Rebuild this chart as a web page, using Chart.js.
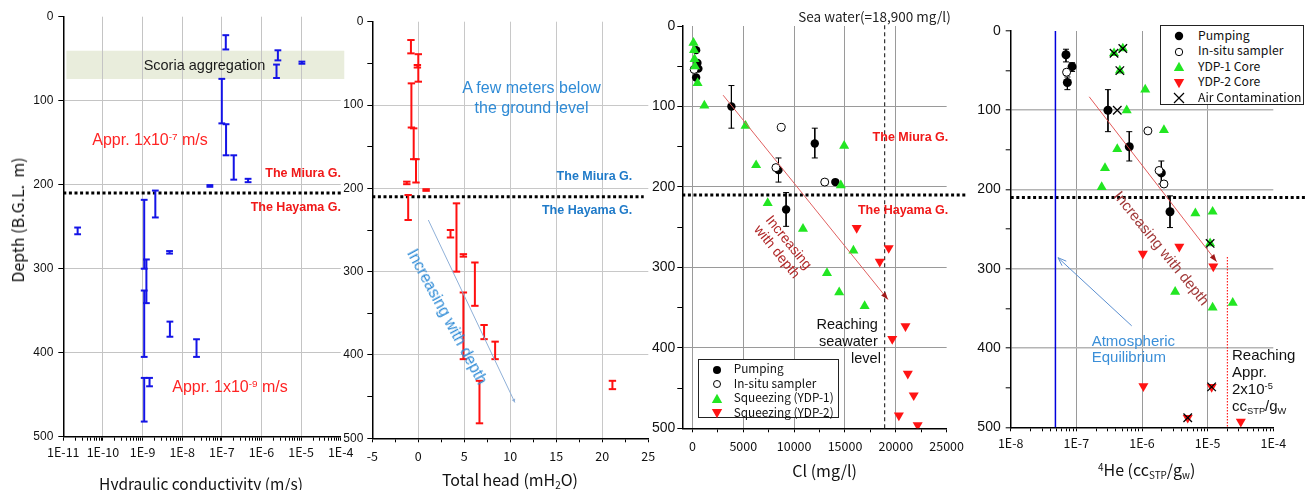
<!DOCTYPE html>
<html><head><meta charset="utf-8">
<script src="https://cdn.jsdelivr.net/npm/chart.js@4.4.1/dist/chart.umd.min.js"></script>
<style>
html,body{margin:0;padding:0;background:#fff;}
#wrap{position:relative;width:1307px;height:490px;overflow:hidden;background:#fff;font-family:'Liberation Sans',Arial,sans-serif;}
canvas{position:absolute;top:0;}
.t{position:absolute;white-space:nowrap;line-height:1;}
.c{transform:translate(-50%,-50%);}
.r{transform:translateY(-50%);}
.jp{font-family:'Noto Sans CJK JP','Liberation Sans',sans-serif;}
sup,sub{font-size:0.62em;line-height:0;}
sup{vertical-align:0.55em;}
sub{vertical-align:-0.3em;}
.b{font-weight:bold;}
.leg{position:absolute;background:#fff;border:1px solid #222;box-sizing:border-box;}
.leg .row{position:absolute;left:0;white-space:nowrap;line-height:1;transform:translateY(-50%);}
.leg svg{position:absolute;top:-6px;}
</style></head>
<body><div id="wrap">
<canvas id="c1"></canvas><canvas id="c2"></canvas><canvas id="c3"></canvas><canvas id="c4"></canvas>

<!-- Panel 1 texts -->
<div class="t c" style="left:204.5px;top:65px;font-size:14.5px;color:#1a1a1a;">Scoria aggregation</div>
<div class="t c" style="left:150px;top:140px;font-size:16px;color:#ff2424;">Appr. 1x10<sup>-7</sup> m/s</div>
<div class="t c" style="left:230px;top:387px;font-size:16px;color:#ff2424;">Appr. 1x10<sup>-9</sup> m/s</div>
<div class="t r b" style="right:966px;top:173.3px;font-size:12.5px;color:#f01818;">The Miura G.</div>
<div class="t r b" style="right:966px;top:207.3px;font-size:12.5px;color:#f01818;">The Hayama G.</div>
<div class="t c jp" style="left:17px;top:220px;font-size:16px;color:#111;transform:translate(-50%,-50%) rotate(-90deg);">Depth (B.G.L.&nbsp; m)</div>
<div class="t c jp" style="left:201px;top:484px;font-size:15.5px;color:#111;">Hydraulic conductivity (m/s)</div>

<!-- Panel 2 texts -->
<div class="t c" style="left:531.5px;top:98.3px;font-size:16px;line-height:20px;color:#2f8bd6;text-align:center;">A few meters below<br>the ground level</div>
<div class="t r b" style="right:674.7px;top:175.7px;font-size:12.5px;color:#1f7ac8;">The Miura G.</div>
<div class="t r b" style="right:674.7px;top:210px;font-size:12.5px;color:#1f7ac8;">The Hayama G.</div>
<div class="t" style="left:447px;top:317px;font-size:16px;color:#2f8bd6;transform:translate(-50%,-50%) rotate(61.6deg);">Increasing with depth</div>
<div class="t c jp" style="left:510px;top:479px;font-size:16px;color:#111;">Total head (mH<sub>2</sub>O)</div>

<!-- Panel 3 texts -->
<div class="t c jp" style="left:874.5px;top:16.7px;font-size:13.5px;color:#222;">Sea water(=18,900 mg/l)</div>
<div class="t r b" style="right:358.7px;top:136.7px;font-size:12.5px;color:#f01818;">The Miura G.</div>
<div class="t r b" style="right:358.7px;top:210px;font-size:12.5px;color:#f01818;">The Hayama G.</div>
<div class="t" style="left:783px;top:247px;font-size:14px;line-height:15px;color:#b02828;text-align:center;transform:translate(-50%,-50%) rotate(51deg);">Increasing<br>with depth</div>
<div class="t c" style="left:847.2px;top:324.3px;font-size:14.5px;color:#111;">Reaching</div>
<div class="t c" style="left:848.3px;top:341px;font-size:14.5px;color:#111;">seawater</div>
<div class="t c" style="left:866px;top:358.3px;font-size:14.5px;color:#111;">level</div>
<div class="t c jp" style="left:824.7px;top:470px;font-size:16px;color:#111;">Cl (mg/l)</div>

<!-- Panel 4 texts -->
<div class="t" style="left:1161.7px;top:248.3px;font-size:15px;color:#a23a3a;transform:translate(-50%,-50%) rotate(51deg);">Increasing with depth</div>
<div class="t" style="left:1091.7px;top:333px;font-size:15px;line-height:16.3px;color:#3b8fd8;">Atmospheric<br>Equilibrium</div>
<div class="t" style="left:1232px;top:346px;font-size:15px;line-height:17px;color:#111;">Reaching<br>Appr.<br>2x10<sup>-5</sup><br>cc<sub>STP</sub>/g<sub>W</sub></div>
<div class="t c jp" style="left:1146.7px;top:469.3px;font-size:16px;color:#111;"><sup>4</sup>He (cc<sub>STP</sub>/g<sub>w</sub>)</div>

<!-- Legend panel 3 -->
<div class="leg jp" style="left:697.7px;top:359px;width:141.3px;height:59px;font-size:11.8px;color:#111;">
  <div class="row" style="top:9.5px;"><svg width="12" height="12" style="left:12px"><circle cx="6" cy="6" r="4" fill="#000"/></svg><span style="position:absolute;left:35px;top:-7.5px;">Pumping</span></div>
  <div class="row" style="top:24px;"><svg width="12" height="12" style="left:12px"><circle cx="6" cy="6" r="3.5" fill="#fff" stroke="#000" stroke-width="1"/></svg><span style="position:absolute;left:35px;top:-7.5px;">In-situ sampler</span></div>
  <div class="row" style="top:38.5px;"><svg width="12" height="12" style="left:12px"><polygon points="6,0.8 11.2,10 0.8,10" fill="#22e622"/></svg><span style="position:absolute;left:35px;top:-7.5px;">Squeezing (YDP-1)</span></div>
  <div class="row" style="top:53px;"><svg width="12" height="12" style="left:12px"><polygon points="0.8,2 11.2,2 6,11.2" fill="#ff1414"/></svg><span style="position:absolute;left:35px;top:-7.5px;">Squeezing (YDP-2)</span></div>
</div>

<!-- Legend panel 4 -->
<div class="leg jp" style="left:1160px;top:25px;width:144px;height:79.5px;font-size:12.2px;color:#111;">
  <div class="row" style="top:10px;"><svg width="12" height="12" style="left:12px"><circle cx="6" cy="6" r="4.2" fill="#000"/></svg><span style="position:absolute;left:37px;top:-7.5px;">Pumping</span></div>
  <div class="row" style="top:25.6px;"><svg width="12" height="12" style="left:12px"><circle cx="6" cy="6" r="3.7" fill="#fff" stroke="#000" stroke-width="1"/></svg><span style="position:absolute;left:37px;top:-7.5px;">In-situ sampler</span></div>
  <div class="row" style="top:41.2px;"><svg width="12" height="12" style="left:12px"><polygon points="6,0.8 11.2,10 0.8,10" fill="#22e622"/></svg><span style="position:absolute;left:37px;top:-7.5px;">YDP-1 Core</span></div>
  <div class="row" style="top:56.8px;"><svg width="12" height="12" style="left:12px"><polygon points="0.8,2 11.2,2 6,11.2" fill="#ff1414"/></svg><span style="position:absolute;left:37px;top:-7.5px;">YDP-2 Core</span></div>
  <div class="row" style="top:72.4px;"><svg width="12" height="12" style="left:12px"><path d="M1,1L11,11M11,1L1,11" stroke="#000" stroke-width="1.2" fill="none"/></svg><span style="position:absolute;left:37px;top:-7.5px;">Air Contamination</span></div>
</div>
</div>

<script>
// ===== Panel 1: hydraulic conductivity (m/s) vs depth range =====
const kValue  = [1.26e-7, 2.6e-6, 2.4e-6, 1.05e-5, 1.0e-7, 1.28e-7, 2.0e-7, 4.6e-7, 5.0e-8, 2.1e-9, 1.1e-9, 1.25e-9, 1.1e-9, 4.8e-9, 4.9e-9, 2.3e-8, 1.1e-9, 1.5e-9, 2.3e-11];
const kTop    = [22, 40, 57, 53.5, 74, 128, 165, 193, 200.5, 207, 218, 289, 326, 279, 363, 384, 430, 430, 251];
const kBottom = [39, 52, 73, 56, 127, 165, 194, 197, 202.5, 239, 300, 341, 405, 282, 381, 405, 482, 440, 259];

// ===== Panel 2: total head (mH2O) vs depth range =====
const headValue  = [-0.8, 0.0, -0.1, -0.75, -0.5, -0.25, -1.25, 0.85, -1.1, 4.15, 3.5, 4.9, 6.15, 4.9, 7.15, 8.35, 6.65, 21.1];
const headTop    = [22, 39, 52, 74, 128, 165, 192, 201, 208, 218, 250, 279, 289, 325, 364, 384, 431, 431];
const headBottom = [38, 72, 55, 127, 165, 193, 195, 203, 238, 300, 259, 282, 341, 405, 381, 405, 482, 441];

// ===== Panel 3: Cl (mg/l) =====
const pumpCl       = [360, 490, 580, 360, 3830, 8460, 12030, 14050, 9210];
const pumpClDepth  = [30, 46, 53, 64, 100, 179, 146, 194, 228];
const pumpClErrTop = [null, null, null, null, 74, 164, 127, null, 207];
const pumpClErrBot = [null, null, null, null, 127, 194, 164, null, 249];
const inSituCl      = [165, 8730, 8210, 13010];
const inSituClDepth = [54, 126, 176, 194];
const ydp1Cl      = [100, 150, 200, 250, 500, 1170, 5220, 6260, 7400, 10870, 14920, 14590, 15830, 13230, 14430, 16930];
const ydp1ClDepth = [21, 30, 41, 50, 71, 99, 124, 173, 220, 252, 149, 198, 279, 307, 331, 348];
const ydp2Cl      = [16150, 19300, 18420, 20950, 19650, 21180, 21760, 20300, 22150];
const ydp2ClDepth = [251, 276, 293, 373, 389, 432, 459, 484, 496];
const seaWaterCl = 18900;

// ===== Panel 4: 4He (ccSTP/gw) =====
const pumpHe       = [6.95e-8, 8.6e-8, 7.3e-8, 3.03e-7, 6.4e-7, 1.97e-6, 2.67e-6];
const pumpHeDepth  = [30, 45, 65, 100, 146, 179, 228];
const pumpHeErrTop = [23, 40, 58, 74, 127, 164, 208];
const pumpHeErrBot = [39, 51, 74, 127, 164, 193, 248];
const inSituHe      = [7.1e-8, 1.23e-6, 1.82e-6, 2.16e-6];
const inSituHeDepth = [52, 126, 176, 193];
const ydp1He      = [3.75e-7, 5.1e-7, 4.6e-7, 1.12e-6, 5.85e-7, 2.16e-6, 4.2e-7, 2.73e-7, 2.43e-7, 6.5e-6, 1.19e-5, 1.09e-5, 3.2e-6, 1.19e-5, 2.41e-5];
const ydp1HeDepth = [28, 22, 50, 74, 100, 125, 149, 173, 197, 230, 228, 268, 329, 349, 343];
const ydp2He      = [1.03e-6, 3.7e-6, 1.22e-5, 1.05e-6, 1.15e-5, 4.97e-6, 3.2e-5];
const ydp2HeDepth = [281, 272, 297, 448, 449, 488, 493];
const airHe      = [3.75e-7, 5.1e-7, 4.6e-7, 4.2e-7, 1.09e-5, 1.15e-5, 4.97e-6];
const airHeDepth = [28, 22, 50, 100, 268, 449, 488];
const atmEquilHe = 4.8e-8;
const reachHe = 2e-5;

// ===== Axes / ticks =====
const depthTicks = [0, 100, 200, 300, 400, 500];
const formationBoundary = 210;
const kTickExps = [-11, -10, -9, -8, -7, -6, -5, -4];
const headTickLabels = [-5, 0, 5, 10, 15, 20, 25];
const clTickLabels = [0, 5000, 10000, 15000, 20000, 25000];
const heTickExps = [-8, -7, -6, -5, -4];

// ---------- helpers ----------
const YW = 40, XH = 30, H = 490;
const pts = (xs, ys) => xs.map((x, i) => ({x, y: ys[i]}));
function errData(xs, tops, bots) {
  const d = [];
  xs.forEach((x, i) => { if (tops[i] == null) return; d.push({x, y: tops[i]}, {x, y: bots[i]}, {x, y: null}); });
  return d;
}
function pad(L, Wd, x0, x1, y0, y1) {
  return {left: x0 - L - YW, right: L + Wd - x1, top: y0, bottom: H - y1 - XH};
}
const TRANSP = 'rgba(0,0,0,0)';
function logTicks(exps) {
  const t = [];
  for (let i = 0; i < exps.length; i++) {
    const e = exps[i];
    if (i === exps.length - 1) { t.push({value: Math.pow(10, e), major: true}); break; }
    for (let k = 1; k <= 9; k++) t.push({value: k * Math.pow(10, e), major: k === 1});
  }
  return t;
}
function isDecade(v) { const e = Math.log10(v); return Math.abs(e - Math.round(e)) < 1e-6; }
function logX(exps, o) {
  const lo = exps[0], hi = exps[exps.length - 1];
  return {
    type: 'logarithmic', position: 'bottom', min: Math.pow(10, lo), max: Math.pow(10, hi),
    afterBuildTicks: s => { s.ticks = logTicks(exps); },
    afterFit: s => { s.height = XH; },
    border: {display: true, color: '#000', width: 1.5},
    grid: {color: c => (c.tick && isDecade(c.tick.value) && Math.round(Math.log10(c.tick.value)) > lo && Math.round(Math.log10(c.tick.value)) < hi) ? o.grid : TRANSP,
      lineWidth: o.gw || 1, tickColor: '#000', tickLength: 4, tickWidth: 1},
    ticks: {autoSkip: false, maxRotation: 0, minRotation: 0, padding: o.pad, color: '#111',
      font: {family: 'Noto Sans CJK JP', size: o.size},
      callback: v => isDecade(v) ? '1E-' + Math.abs(Math.round(Math.log10(v))) : ''}
  };
}
function linX(labels, step, o) {
  const lo = o.min, hi = labels[labels.length - 1];
  return {
    type: 'linear', position: 'bottom', min: lo, max: hi,
    afterBuildTicks: s => { const t = []; for (let v = labels[0]; v <= hi + 1e-9; v += step) t.push({value: v}); s.ticks = t; },
    afterFit: s => { s.height = XH; },
    border: {display: true, color: '#000', width: 1.5},
    grid: {color: c => (c.tick && labels.includes(c.tick.value) && c.tick.value > lo && c.tick.value < hi) ? o.grid : TRANSP,
      lineWidth: o.gw || 1, tickColor: '#000', tickLength: 4, tickWidth: 1},
    ticks: {autoSkip: false, maxRotation: 0, minRotation: 0, padding: o.pad, color: '#111',
      font: {family: 'Noto Sans CJK JP', size: o.size},
      callback: v => labels.includes(v) ? String(v) : ''}
  };
}
function depthY(o) {
  return {
    type: 'linear', position: 'left', reverse: true, min: 0, max: 500,
    afterBuildTicks: s => { const t = []; for (let v = 0; v <= 500; v += o.step) t.push({value: v}); s.ticks = t; },
    afterFit: s => { s.width = YW; },
    border: {display: true, color: '#000', width: 1.5},
    grid: {color: c => (c.tick && depthTicks.includes(c.tick.value) && c.tick.value > 0 && c.tick.value < 500) ? o.grid : TRANSP,
      lineWidth: o.gw || 1, tickColor: '#000', tickLength: 5, tickWidth: 1},
    ticks: {autoSkip: false, padding: o.pad, color: '#111', font: {family: 'Liberation Sans', size: o.size},
      callback: v => depthTicks.includes(v) ? String(v) : ''}
  };
}

// decoration plugin: bands, reference lines, arrows (all in data coordinates)
const decor = {
  id: 'decor',
  beforeDraw(chart, args, o) {
    const {ctx} = chart, xs = chart.scales.x, ys = chart.scales.y;
    (o.bands || []).forEach(b => {
      const x0 = xs.getPixelForValue(b.x0), x1 = xs.getPixelForValue(b.x1);
      const y0 = ys.getPixelForValue(b.y0), y1 = ys.getPixelForValue(b.y1);
      ctx.save(); ctx.fillStyle = b.color;
      ctx.fillRect(Math.min(x0, x1), Math.min(y0, y1), Math.abs(x1 - x0), Math.abs(y1 - y0));
      ctx.restore();
    });
  },
  beforeDatasetsDraw(chart, args, o) {
    const {ctx} = chart, xs = chart.scales.x, ys = chart.scales.y;
    (o.lines || []).forEach(l => {
      ctx.save();
      ctx.strokeStyle = l.color; ctx.lineWidth = l.width; ctx.setLineDash(l.dash || []);
      ctx.beginPath();
      ctx.moveTo(xs.getPixelForValue(l.x0), ys.getPixelForValue(l.y0));
      ctx.lineTo(xs.getPixelForValue(l.x1), ys.getPixelForValue(l.y1));
      ctx.stroke(); ctx.restore();
    });
  },
  afterDatasetsDraw(chart, args, o) {
    const {ctx} = chart, xs = chart.scales.x, ys = chart.scales.y;
    (o.arrows || []).forEach(a => {
      const px0 = xs.getPixelForValue(a.x0), py0 = ys.getPixelForValue(a.y0);
      const px1 = xs.getPixelForValue(a.x1), py1 = ys.getPixelForValue(a.y1);
      const ang = Math.atan2(py1 - py0, px1 - px0);
      ctx.save();
      ctx.strokeStyle = a.color; ctx.lineWidth = a.width; ctx.setLineDash(a.dash || []);
      ctx.beginPath(); ctx.moveTo(px0, py0); ctx.lineTo(px1, py1); ctx.stroke();
      ctx.setLineDash([]);
      const s = a.head, sp = a.spread || 0.4;
      const ax = px1 - s * Math.cos(ang - sp), ay = py1 - s * Math.sin(ang - sp);
      const bx = px1 - s * Math.cos(ang + sp), by = py1 - s * Math.sin(ang + sp);
      if (a.open) {
        ctx.beginPath(); ctx.moveTo(ax, ay); ctx.lineTo(px1, py1); ctx.lineTo(bx, by); ctx.stroke();
      } else {
        ctx.fillStyle = a.headColor || a.color;
        ctx.beginPath(); ctx.moveTo(px1, py1); ctx.lineTo(ax, ay); ctx.lineTo(bx, by); ctx.closePath(); ctx.fill();
      }
      ctx.restore();
    });
  }
};

function make(id, L, Wd, area, scales, datasets, decorOpts) {
  const cv = document.getElementById(id);
  cv.width = Wd; cv.height = H; cv.style.left = L + 'px'; cv.style.width = Wd + 'px'; cv.style.height = H + 'px';
  return new Chart(cv, {
    type: 'scatter',
    data: {datasets},
    options: {
      responsive: false, animation: false, devicePixelRatio: 1, events: [],
      layout: {padding: pad(L, Wd, area[0], area[1], area[2], area[3])},
      plugins: {legend: {display: false}, tooltip: {enabled: false}, decor: decorOpts},
      scales
    },
    plugins: [decor]
  });
}
function errSet(data, color, bw, capR) {
  return {data, showLine: true, borderColor: color, borderWidth: bw, pointStyle: 'line', pointRadius: capR,
    pointBorderWidth: bw, pointBorderColor: color, pointBackgroundColor: color, spanGaps: false, clip: false};
}

// ---------- Panel 1 ----------
const blue = '#1414e6';
make('c1', 0, 362, [63.3, 340.7, 16.7, 436.7],
  {x: logX(kTickExps, {grid: '#c4c4c4', pad: 4, size: 12.5}), y: depthY({step: 100, grid: '#c4c4c4', pad: 5, size: 12})},
  [errSet(errData(kValue, kTop, kBottom), blue, 2, 3.4)],
  {bands: [{x0: 1.2e-11, x1: 1.23e-4, y0: 40.5, y1: 74.2, color: '#e9eddc'}],
   lines: [{x0: 1e-11, x1: 1.12e-4, y0: formationBoundary, y1: formationBoundary, color: '#000', width: 3, dash: [3, 2.6]}]});

// ---------- Panel 2 ----------
const red = '#ff1010';
make('c2', 330, 336, [372.3, 648.3, 21.7, 438.3],
  {x: linX(headTickLabels, 2.5, {min: -5, grid: '#c8c8c8', pad: 6, size: 12.5}), y: depthY({step: 50, grid: '#c8c8c8', pad: 4, size: 12})},
  [errSet(errData(headValue, headTop, headBottom), red, 2, 3.7)],
  {lines: [{x0: -5, x1: 24.5, y0: formationBoundary, y1: formationBoundary, color: '#000', width: 3, dash: [3, 2.6]}],
   arrows: [{x0: 1.09, y0: 238, x1: 10.5, y1: 457, color: '#8fb0d8', width: 1, head: 4, spread: 0.5}]});

// ---------- Panel 3 ----------
make('c3', 640, 330, [682.3, 949.7, 26, 428.3],
  {x: linX(clTickLabels, 2500, {min: -1000, grid: '#9a9a9a', pad: 6, size: 12.5}), y: depthY({step: 50, grid: '#9a9a9a', pad: 2, size: 14})},
  [
    {data: pts(ydp2Cl, ydp2ClDepth), pointStyle: 'triangle', rotation: 180, pointRadius: 5.8, backgroundColor: '#ff1414', borderColor: '#ff1414', borderWidth: 0},
    {data: pts(ydp1Cl, ydp1ClDepth), pointStyle: 'triangle', pointRadius: 5.8, backgroundColor: '#22e622', borderColor: '#22e622', borderWidth: 0},
    {data: pts(inSituCl, inSituClDepth), pointStyle: 'circle', pointRadius: 4, backgroundColor: '#fff', borderColor: '#000', borderWidth: 1},
    {data: pts(pumpCl, pumpClDepth), pointStyle: 'circle', pointRadius: 4.2, backgroundColor: '#000', borderColor: '#000', borderWidth: 0},
    errSet(errData(pumpCl, pumpClErrTop, pumpClErrBot), '#000', 1, 3)
  ],
  {lines: [
     {x0: -1000, x1: 27000, y0: formationBoundary, y1: formationBoundary, color: '#000', width: 3, dash: [3, 2.6]},
     {x0: seaWaterCl, x1: seaWaterCl, y0: -1, y1: 500, color: '#333', width: 1.2, dash: [4, 3]}],
   arrows: [{x0: 3016, y0: 86, x1: 19230, y1: 340, color: '#e06060', width: 1, head: 8, headColor: '#a01818', spread: 0.35}]});

// ---------- Panel 4 ----------
make('c4', 965, 342, [1010.7, 1273.3, 31, 427.3],
  {x: logX(heTickExps, {grid: '#9a9a9a', pad: 4, size: 12.5}), y: depthY({step: 50, grid: '#b4b4b4', gw: 1.6, pad: 5, size: 14})},
  [
    {data: pts(airHe, airHeDepth), pointStyle: 'crossRot', pointRadius: 6, borderColor: '#000', borderWidth: 1.3, backgroundColor: TRANSP},
    {data: pts(ydp2He, ydp2HeDepth), pointStyle: 'triangle', rotation: 180, pointRadius: 5.8, backgroundColor: '#ff1414', borderColor: '#ff1414', borderWidth: 0},
    {data: pts(ydp1He, ydp1HeDepth), pointStyle: 'triangle', pointRadius: 5.8, backgroundColor: '#22e622', borderColor: '#22e622', borderWidth: 0},
    {data: pts(inSituHe, inSituHeDepth), pointStyle: 'circle', pointRadius: 4, backgroundColor: '#fff', borderColor: '#000', borderWidth: 1},
    {data: pts(pumpHe, pumpHeDepth), pointStyle: 'circle', pointRadius: 4.5, backgroundColor: '#000', borderColor: '#000', borderWidth: 0},
    errSet(errData(pumpHe, pumpHeErrTop, pumpHeErrBot), '#000', 1, 3)
  ],
  {lines: [
     {x0: 1e-8, x1: 3.3e-4, y0: formationBoundary, y1: formationBoundary, color: '#000', width: 3, dash: [3, 2.6]},
     {x0: atmEquilHe, x1: atmEquilHe, y0: 0, y1: 500, color: '#0000dd', width: 1.5},
     {x0: reachHe, x1: reachHe, y0: 285, y1: 500, color: '#ff2020', width: 1.2, dash: [1.5, 1.5]}],
   arrows: [
     {x0: 1.57e-7, y0: 83, x1: 1.37e-5, y1: 291, color: '#e04848', width: 0.9, head: 8, headColor: '#a01818', spread: 0.35},
     {x0: 6.97e-7, y0: 372, x1: 5.25e-8, y1: 286, color: '#5b8fd0', width: 1, head: 9, open: true, spread: 0.35}]});
</script>
</body></html>
